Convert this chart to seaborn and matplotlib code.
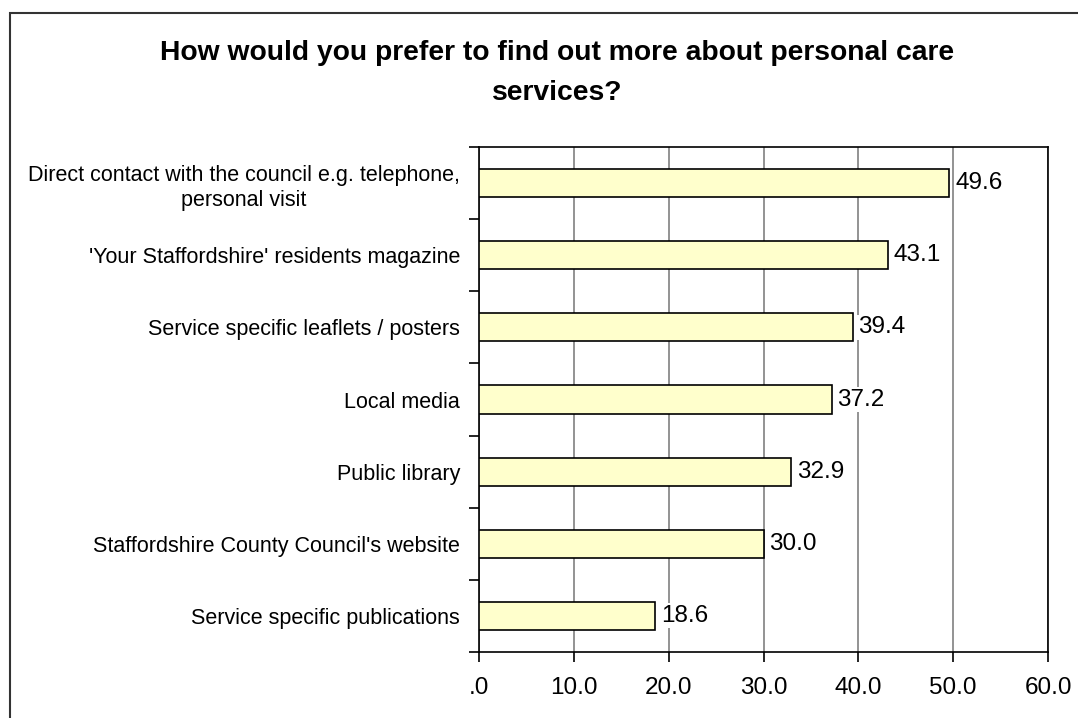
import matplotlib
matplotlib.use("Agg")
import matplotlib.pyplot as plt
import seaborn as sns
import pandas as pd
from matplotlib.patches import Rectangle

categories = [
    "Direct contact with the council e.g. telephone,\npersonal visit",
    "'Your Staffordshire' residents magazine",
    "Service specific leaflets / posters",
    "Local media",
    "Public library",
    "Staffordshire County Council's website",
    "Service specific publications",
]
values = [49.6, 43.1, 39.4, 37.2, 32.9, 30.0, 18.6]
xticks = [0, 10, 20, 30, 40, 50, 60]
xtick_labels = [".0", "10.0", "20.0", "30.0", "40.0", "50.0", "60.0"]
title = "How would you prefer to find out more about personal care\nservices?"

sns.set_style("white")
plt.rcParams["font.family"] = ["Liberation Sans", "DejaVu Sans"]
plt.rcParams["text.color"] = "black"
plt.rcParams["xtick.color"] = "black"
plt.rcParams["ytick.color"] = "black"
plt.rcParams["xtick.labelcolor"] = "black"
plt.rcParams["ytick.labelcolor"] = "black"

df = pd.DataFrame({"category": categories, "value": values})

fig = plt.figure(figsize=(10.78, 7.18), dpi=100)
ax = fig.add_axes([479 / 1078, 1 - 652 / 718, (1048 - 479) / 1078, (652 - 147) / 718])

sns.barplot(data=df, x="value", y="category", orient="h", ax=ax,
            color="#FFFFCC", edgecolor="black", linewidth=1.2, width=0.39,
            saturation=1, zorder=3)

ax.set_xlim(0, 60)
ax.set_ylim(len(categories) - 0.5, -0.5)
ax.set_xticks(xticks)
ax.set_xticklabels(xtick_labels, fontsize=17.5)
ax.set_xlabel("")
ax.set_ylabel("")

ax.set_yticks(list(range(len(categories))))
ax.set_yticklabels(categories, fontsize=15.5, ha="right", multialignment="center",
                   linespacing=1.3)
ax.tick_params(axis="y", which="major", length=0, pad=13.7)

ax.set_yticks([i + 0.5 for i in range(-1, len(categories))], minor=True)
ax.tick_params(axis="y", which="minor", direction="out", length=7, width=1.2,
               color="black", left=True)
ax.tick_params(axis="x", which="major", direction="out", length=7, width=1.2,
               color="black", bottom=True, pad=11)

ax.grid(axis="x", color="#808080", linewidth=1.2, zorder=0)
ax.set_axisbelow(True)
for s in ax.spines.values():
    s.set_visible(True)
    s.set_color("black")
    s.set_linewidth(1.2)

for i, v in enumerate(values):
    ax.text(v + 0.6, i, f"{v:.1f}", va="center", ha="left", fontsize=17.5, zorder=4,
            bbox=dict(facecolor="white", edgecolor="none", pad=1))

fig.text(557 / 1078, 1 - 73 / 718, title, ha="center", va="center",
         fontsize=20.3, fontweight="bold", linespacing=1.75)

fig.patches.append(Rectangle((10 / 1078, -0.1), 1.2, 1 - 13 / 718 + 0.1,
                             transform=fig.transFigure, fill=False,
                             edgecolor="#333333", linewidth=1.5))

fig.savefig("out.png", dpi=100, facecolor="white")
